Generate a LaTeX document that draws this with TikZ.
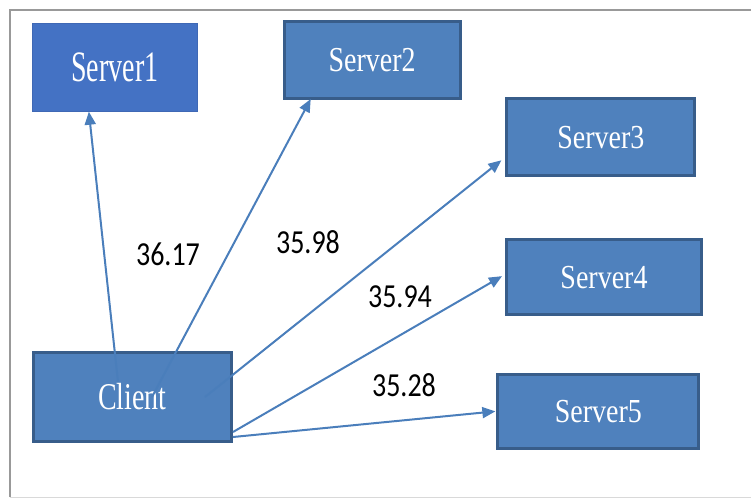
\documentclass[tikz,border=0pt]{standalone}
\usepackage{fontspec}
\setmainfont{Liberation Serif}
\newfontfamily\numfont{Carlito}
\usetikzlibrary{arrows.meta}
\definecolor{boxfill}{HTML}{4F81BD}
\definecolor{boxedge}{HTML}{385D8A}
\definecolor{boxfillA}{HTML}{4472C4}
\definecolor{boxedgeA}{HTML}{3F68B5}
\definecolor{linkcol}{HTML}{4A7EBB}
\tikzset{
  srvbox/.style={draw=boxedge, fill=boxfill, line width=3pt, inner sep=0pt,
    text=white, font=\fontsize{28}{30}\selectfont},
  srvboxA/.style={draw=boxedgeA, fill=boxfillA, line width=1pt, inner sep=0pt,
    text=white, font=\fontsize{28}{30}\selectfont},
  conn/.style={draw=linkcol, line width=2pt, -{Triangle[length=13pt,width=11pt]}},
  lbl/.style={inner sep=0pt, text=black, font=\numfont\fontsize{28}{30}\selectfont},
}
\begin{document}
\begin{tikzpicture}[x=1pt,y=-1pt]
\useasboundingbox (0,0) rectangle (751,498);
% frame
\draw[draw=gray!80, line width=2pt] (10,497) -- (10,10) -- (752,10);
\draw[draw=gray!30, line width=1pt] (10,497) -- (752,497);
% nodes
\node[srvboxA, minimum width=165pt, minimum height=88pt] (s1) at (114.85,67.2) {\scalebox{1}[1.55]{Server1}};
\node[srvbox, minimum width=176pt, minimum height=77pt] (s2) at (372.2,60) {\scalebox{1}[1.25]{Server2}};
\node[srvbox, minimum width=188pt, minimum height=77pt] (s3) at (600.85,137.3) {\scalebox{1}[1.2]{Server3}};
\node[srvbox, minimum width=195pt, minimum height=75pt] (s4) at (604,277.15) {\scalebox{1}[1.2]{Server4}};
\node[srvbox, minimum width=201pt, minimum height=74pt] (s5) at (598.35,411.35) {\scalebox{1}[1.2]{Server5}};
\node[srvbox, minimum width=198pt, minimum height=89pt] (client) at (132.5,396.7) {\scalebox{1}[1.35]{Client}};
% start points inside the client
\coordinate (c1) at (118,382);
\coordinate (c2) at (152,397);
\coordinate (c3) at (205,397);
\coordinate (c4) at (233,432);
\coordinate (c5) at (233,437);
% connectors
\draw[conn] (c1) -- ([xshift=57pt]s1.south west);
\draw[conn] (c2) -- ([xshift=28pt,yshift=1pt]s2.south west);
\draw[conn] (c3) -- ([xshift=-4pt,yshift=17pt]s3.south west);
\draw[conn] (c4) -- ([xshift=-3pt,yshift=1pt]s4.west);
\draw[conn] (c5) -- ([xshift=-1pt]s5.west);
% labels
\node[lbl] (l1) at (168,254) {\scalebox{1}[1.2]{36.17}};
\node[lbl] (l2) at (308,242) {\scalebox{1}[1.2]{35.98}};
\node[lbl] (l3) at (400,297) {\scalebox{1}[1.2]{35.94}};
\node[lbl] (l4) at (404,385) {\scalebox{1}[1.2]{35.28}};
\end{tikzpicture}
\end{document}
